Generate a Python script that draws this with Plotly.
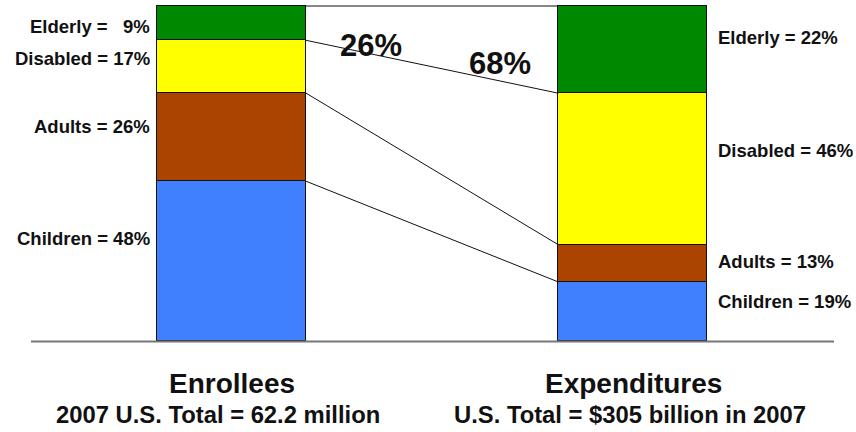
import plotly.graph_objects as go

# ---- data ----
groups = ["Enrollees", "Expenditures"]
segments = ["Children", "Adults", "Disabled", "Elderly"]          # bottom -> top
enrollee_share = [47.8, 26.3, 15.7, 10.2]                           # drawn heights (%)
expenditure_share = [17.7, 11.1, 45.2, 26.0]
enrollee_labels = [48, 26, 17, 9]                                   # printed percentages
expenditure_labels = [19, 13, 46, 22]
colors = ["#4080FF", "#AA4400", "#FFFF00", "#008800"]
shift_values = ["26%", "68%"]
subtitles = ["2007 U.S. Total = 62.2 million", "U.S. Total = $305 billion in 2007"]

W, H = 856, 432
BAR_W = 0.37
FONT = "Liberation Sans, Arial, sans-serif"

fig = go.Figure()
for i, seg in enumerate(segments):
    fig.add_trace(go.Bar(
        x=[0, 1], y=[enrollee_share[i], expenditure_share[i]],
        width=BAR_W, name=seg,
        marker=dict(color=colors[i], line=dict(color="#111111", width=1)),
        hoverinfo="skip", showlegend=False,
    ))

def ppx(py):
    return 1 - py / H

shapes = []
# connectors between segment boundaries
cl, cr = 0, 0
for i in range(len(segments) - 1):
    cl += enrollee_share[i]
    cr += expenditure_share[i]
    shapes.append(dict(type="line", xref="x", yref="y",
                       x0=BAR_W / 2, x1=1 - BAR_W / 2, y0=cl, y1=cr,
                       line=dict(color="#111111", width=1)))
# top border between bars
shapes.append(dict(type="line", xref="x", yref="y",
                   x0=BAR_W / 2, x1=1 - BAR_W / 2,
                   y0=sum(enrollee_share), y1=sum(expenditure_share),
                   line=dict(color="#111111", width=1)))
# baseline
shapes.append(dict(type="line", xref="paper", yref="paper",
                   x0=31 / W, x1=834 / W, y0=ppx(341.5), y1=ppx(341.5),
                   line=dict(color="#777777", width=2)))

ann = []
left_y = [238, 126, 58.5, 26]
right_y = [301, 261.5, 151, 37.5]
for i, seg in enumerate(segments):
    if seg == "Elderly":
        ltxt = f"<b>{seg} =\u00a0\u00a0\u00a0{enrollee_labels[i]}%</b>"
    else:
        ltxt = f"<b>{seg} = {enrollee_labels[i]}%</b>"
    ann.append(dict(x=-BAR_W / 2, xref="x", xshift=-5, y=ppx(left_y[i]), yref="paper",
                    text=ltxt, showarrow=False, xanchor="right", yanchor="middle",
                    font=dict(family=FONT, size=18.5, color="#111111")))
    ann.append(dict(x=1 + BAR_W / 2, xref="x", xshift=9, y=ppx(right_y[i]), yref="paper",
                    text=f"<b>{seg} = {expenditure_labels[i]}%</b>", showarrow=False,
                    xanchor="left", yanchor="middle",
                    font=dict(family=FONT, size=18.5, color="#111111")))

for txt, cx, cy in zip(shift_values, [371, 500], [45.5, 63]):
    ann.append(dict(x=cx / W, xref="paper", y=ppx(cy), yref="paper", text=f"<b>{txt}</b>",
                    showarrow=False, xanchor="center", yanchor="middle",
                    font=dict(family=FONT, size=31, color="#111111")))

for g, sub, cx, scx in zip(groups, subtitles, [231.5, 633], [217.5, 630]):
    ann.append(dict(x=cx / W, xref="paper", y=ppx(383), yref="paper", text=f"<b>{g}</b>",
                    showarrow=False, xanchor="center", yanchor="middle",
                    font=dict(family=FONT, size=28, color="#111111")))
    ann.append(dict(x=scx / W, xref="paper", y=ppx(414), yref="paper", text=f"<b>{sub}</b>",
                    showarrow=False, xanchor="center", yanchor="middle",
                    font=dict(family=FONT, size=23.8, color="#111111")))

unit = 401.2
x0 = -231.3 / unit
x1 = (W - 231.3) / unit
k = 335.3 / 100
y_lo = -(H - 341.3) / k
y_hi = 341.3 / k

fig.update_layout(
    width=W, height=H, barmode="stack", bargap=0,
    margin=dict(l=0, r=0, t=0, b=0),
    paper_bgcolor="white", plot_bgcolor="white",
    xaxis=dict(range=[x0, x1], visible=False, fixedrange=True),
    yaxis=dict(range=[y_lo, y_hi], visible=False, fixedrange=True),
    shapes=shapes, annotations=ann, showlegend=False,
)

fig.write_html("out.html")
